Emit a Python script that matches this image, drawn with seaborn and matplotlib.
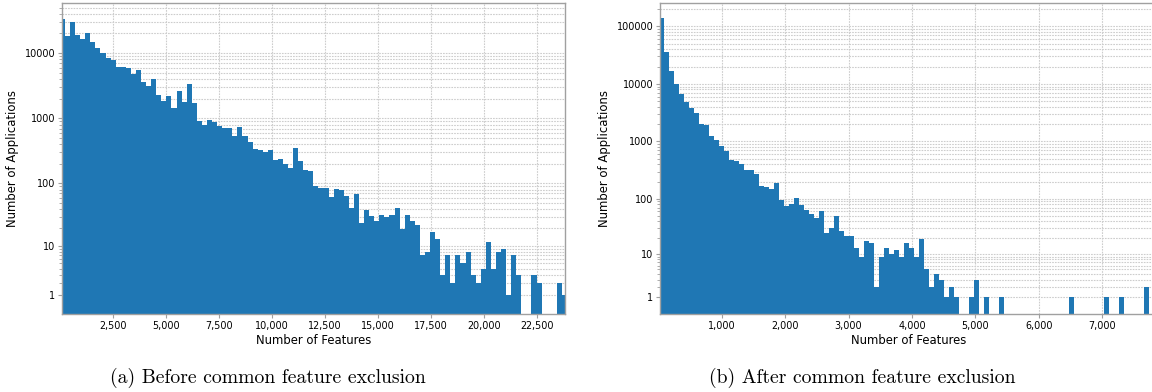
import numpy as np
import pandas as pd
import matplotlib
matplotlib.use('Agg')
import matplotlib.pyplot as plt
import seaborn as sns
from matplotlib.ticker import FixedLocator, FuncFormatter, NullFormatter

# Histogram counts (100 bins per panel)
before_counts = [33000, 18400, 30000, 19200, 16700, 20400, 14900, 12000, 10100, 8570,
                 7900, 6030, 6030, 5820, 4710, 5560, 3560, 3170, 4050, 2310,
                 1870, 2230, 1460, 2660, 1800, 3400, 1740, 925, 804, 958,
                 893, 776, 706, 723, 546, 749, 546, 427, 345, 333,
                 300, 333, 226, 242, 196, 176, 357, 218, 164, 153,
                 90, 84, 84, 61, 81, 78, 63, 42, 68, 24,
                 38, 31, 26, 32, 30, 32, 41, 19, 32, 26,
                 22, 7, 8, 17, 13, 3, 7, 2, 7, 5,
                 8, 3, 2, 4, 12, 4, 8, 9, 1, 7,
                 3, 0, 0, 3, 2, 0, 0, 0, 2, 1]
before_range = (14, 23894)
before_xlim = (126, 23780)
before_xticks = [2500, 5000, 7500, 10000, 12500, 15000, 17500, 20000, 22500]
before_yticks = [1, 10, 100, 1000, 10000]

after_counts = [140000, 35700, 16700, 9960, 6600, 4800, 3830, 3100, 2000, 1920,
                1250, 1060, 840, 680, 476, 463, 406, 323, 323, 272,
                171, 164, 150, 190, 97, 74, 82, 105, 79, 65,
                55, 46, 62, 25, 31, 50, 27, 22, 22, 13,
                9, 18, 16, 2, 9, 13, 10, 12, 9, 16,
                13, 9, 19, 5, 2, 4, 3, 1, 2, 1,
                0, 0, 1, 3, 0, 1, 0, 0, 1, 0,
                0, 0, 0, 0, 0, 0, 0, 0, 0, 0,
                0, 0, 1, 0, 0, 0, 0, 0, 0, 1,
                0, 0, 1, 0, 0, 0, 0, 2, 0, 0]
after_range = (16, 7896)
after_xlim = (32, 7875)
after_xticks = [1000, 2000, 3000, 4000, 5000, 6000, 7000]
after_yticks = [1, 10, 100, 1000, 10000, 100000]

captions = ['(a) Before common feature exclusion', '(b) After common feature exclusion']


# y axis is log(1 + count), so empty bins sit on the floor
def fwd(v):
    return np.log10(1 + np.clip(v, 0, None))


def inv(v):
    return 10 ** v - 1


fig = plt.figure(figsize=(11.52, 3.92), dpi=100)
ax_a = fig.add_axes([62.3 / 1152, 0.1982, 502.2 / 1152, 0.7934])
ax_b = fig.add_axes([660.3 / 1152, 0.1982, 497.5 / 1152, 0.7934])

panels = [
    (ax_a, before_counts, before_range, before_xlim, before_xticks, before_yticks, 58000),
    (ax_b, after_counts, after_range, after_xlim, after_xticks, after_yticks, 251000),
]

grid_style = dict(linestyle=(0, (1.5, 1.0)), color='#cdcdcd', linewidth=0.8)

for ax, counts, rng, xlim, xticks, yticks, ytop in panels:
    n = len(counts)
    edges = np.linspace(rng[0], rng[1], n + 1)
    df = pd.DataFrame({'features': (edges[:-1] + edges[1:]) / 2, 'apps': counts})
    sns.histplot(data=df, x='features', weights='apps', bins=n, binrange=rng, ax=ax,
                 color='#1f77b4', alpha=1, linewidth=0, zorder=2)

    ax.set_yscale('function', functions=(fwd, inv))
    ax.set_ylim(0, ytop)
    ax.set_xlim(*xlim)

    ax.yaxis.set_major_locator(FixedLocator(yticks))
    ax.yaxis.set_major_formatter(FuncFormatter(lambda v, p: f'{int(round(v))}'))
    minors = [k * 10 ** d for d in range(0, 6) for k in range(2, 10)]
    ax.yaxis.set_minor_locator(FixedLocator(minors))
    ax.yaxis.set_minor_formatter(NullFormatter())
    ax.xaxis.set_major_locator(FixedLocator(xticks))
    ax.xaxis.set_major_formatter(FuncFormatter(lambda v, p: f'{v:,.0f}'))

    ax.set_axisbelow(True)
    ax.grid(True, which='both', axis='y', **grid_style)
    ax.grid(True, which='major', axis='x', **grid_style)

    for s in ax.spines.values():
        s.set_visible(True)
        s.set_color('#a0a0a0')
        s.set_linewidth(1.0)
    ax.tick_params(axis='both', which='major', labelsize=6.9, length=3,
                   color='#a0a0a0', width=0.8, pad=2)
    ax.tick_params(axis='y', which='minor', length=2, color='#a0a0a0', width=0.6)

    ax.set_xlabel('Number of Features', fontsize=8.4, labelpad=2)
    ax.set_ylabel('Number of Applications', fontsize=8.4, labelpad=4)

fig.text(268 / 1152, 1 - 378 / 392, captions[0], ha='center', va='center',
         fontsize=14.2, family='cmr10')
fig.text(862 / 1152, 1 - 378 / 392, captions[1], ha='center', va='center',
         fontsize=14.2, family='cmr10')

fig.savefig('out.png', dpi=100)
